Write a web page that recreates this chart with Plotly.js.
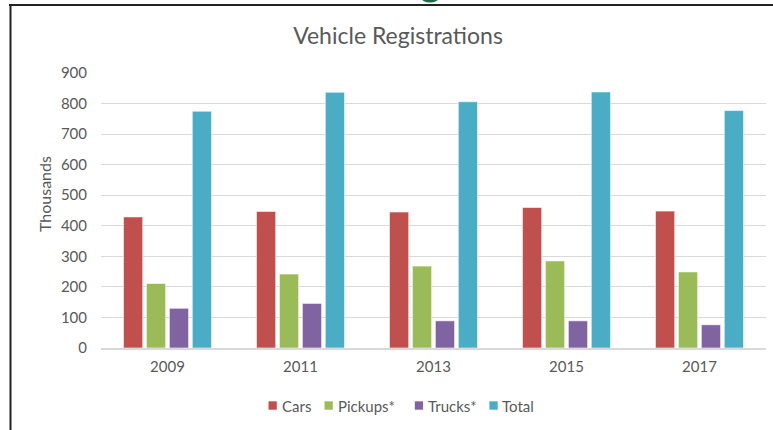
<!DOCTYPE html>
<html>
<head>
<meta charset="utf-8">
<script src="https://cdn.plot.ly/plotly-3.0.1.min.js"></script>
<style>
html,body{margin:0;padding:0;background:#fff;}
#chart{width:773px;height:430px;}
</style>
</head>
<body>
<div id="chart"></div>
<script>
const years = ['2009', '2011', '2013', '2015', '2017'];
const cars = [429, 447, 445, 460, 448];
const pickups = [211, 242, 268, 285, 249];
const trucks = [130, 146, 89, 89, 76];
const total = [775, 837, 806, 838, 777];
const seriesNames = ['Cars', 'Pickups*', 'Trucks*', 'Total'];
const colors = ['#C0504D', '#9BBB59', '#8064A2', '#4BACC6'];

const values = [cars, pickups, trucks, total];
const data = values.map((v, i) => ({
  type: 'bar',
  x: years,
  y: v,
  name: seriesNames[i],
  marker: {color: colors[i], line: {color: 'rgba(255,255,255,0.6)', width: 1}},
  hoverinfo: 'skip'
}));

// plot area in pixels (for placing layout-only items)
const PL = 101, PR = 766, PT = 73, PB = 348;
const px = x => (x - PL) / (PR - PL);
const py = y => (PB - y) / (PB - PT);

const font = "Lato, 'Open Sans', sans-serif";
const txtColor = '#595959';

// custom legend (squares + labels) at the bottom
const legendSquareX = [268.5, 324.5, 414.8, 489.4];
const legendY = 405.5;
const shapes = [
  {type: 'line', xref: 'paper', yref: 'paper', x0: px(9), x1: px(773), y0: py(5), y1: py(5),
   line: {color: '#222222', width: 2}},
  {type: 'line', xref: 'paper', yref: 'paper', x0: px(10.5), x1: px(10.5), y0: py(5), y1: py(431),
   line: {color: '#222222', width: 2}},
  {type: 'circle', xref: 'paper', yref: 'paper', x0: px(421), x1: px(439), y0: py(2.5), y1: py(-8),
   fillcolor: '#1E6B45', line: {width: 0}}
];
const annotations = [
  {text: 'Thousands', xref: 'paper', yref: 'paper', x: px(44), y: py(194), textangle: -90,
   showarrow: false, xanchor: 'center', yanchor: 'middle',
   font: {family: font, size: 16, color: txtColor}}
];
seriesNames.forEach((name, i) => {
  const x0 = legendSquareX[i];
  shapes.push({type: 'rect', xref: 'paper', yref: 'paper',
    x0: px(x0), x1: px(x0 + 8.3), y0: py(legendY - 4.2), y1: py(legendY + 4.2),
    fillcolor: colors[i], line: {width: 0}});
  annotations.push({text: name, xref: 'paper', yref: 'paper', x: px(x0 + 11), y: py(legendY),
    showarrow: false, xanchor: 'left', yanchor: 'middle',
    font: {family: font, size: 15, color: txtColor}});
});

const layout = {
  width: 773,
  height: 430,
  margin: {l: PL, r: 773 - PR, t: PT, b: 430 - PB},
  paper_bgcolor: '#ffffff',
  plot_bgcolor: '#ffffff',
  barmode: 'group',
  bargap: 0.31,
  bargroupgap: 0.16,
  font: {family: font, color: txtColor, size: 15},
  showlegend: false,
  title: {
    text: 'Vehicle Registrations',
    font: {family: font, size: 23, color: txtColor},
    x: 398 / 773, xanchor: 'center', xref: 'container',
    y: 1 - 36 / 430, yanchor: 'middle', yref: 'container'
  },
  xaxis: {
    type: 'category',
    showgrid: false,
    showline: true,
    linecolor: '#d9d9d9',
    linewidth: 1.5,
    ticks: '',
    ticklabelstandoff: 4,
    tickfont: {family: font, size: 15, color: txtColor},
    zeroline: false
  },
  yaxis: {
    range: [0, 900],
    dtick: 100,
    tick0: 0,
    showgrid: true,
    gridcolor: '#d9d9d9',
    gridwidth: 1,
    zeroline: false,
    showline: false,
    ticks: '',
    ticklabelstandoff: 13,
    tickfont: {family: font, size: 15, color: txtColor}
  },
  shapes: shapes,
  annotations: annotations
};

Plotly.newPlot('chart', data, layout, {displayModeBar: false, staticPlot: true});
</script>
</body>
</html>
